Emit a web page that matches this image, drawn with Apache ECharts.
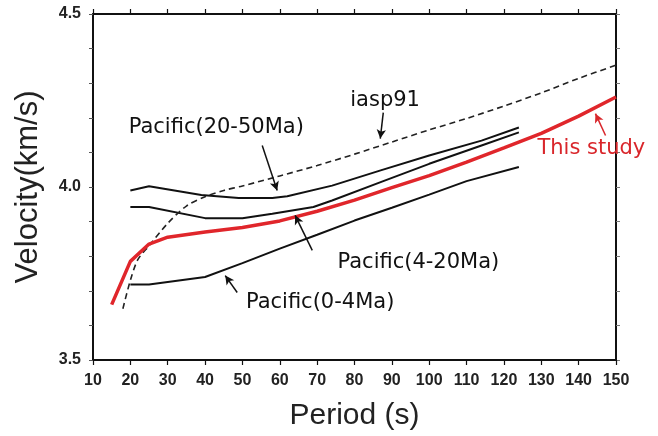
<!DOCTYPE html>
<html><head><meta charset="utf-8">
<script src="https://cdn.jsdelivr.net/npm/echarts@6/dist/echarts.min.js"></script>
<style>html,body{margin:0;padding:0;background:#fff}#c{width:658px;height:436px}</style>
</head><body><div id="c"></div>
<script>
// Data (period in s, velocity in km/s)
const thisStudyP = [15, 20, 25, 30, 40, 50, 60, 70, 80, 90, 100, 110, 120, 130, 140, 150];
const thisStudyV = [3.66, 3.785, 3.835, 3.855, 3.87, 3.883, 3.902, 3.93, 3.962, 3.998, 4.033, 4.072, 4.113, 4.155, 4.205, 4.26];
const iaspP = [18, 20, 22, 25, 30, 35, 40, 45, 50, 60, 70, 80, 90, 100, 110, 120, 130, 140, 150];
const iaspV = [3.648, 3.73, 3.79, 3.83, 3.895, 3.945, 3.972, 3.99, 4.003, 4.032, 4.062, 4.095, 4.13, 4.165, 4.198, 4.234, 4.272, 4.314, 4.352];
const pac0_4P = [20, 25, 40, 50, 60, 70, 80, 90, 100, 110, 124];
const pac0_4V = [3.718, 3.718, 3.74, 3.78, 3.822, 3.862, 3.903, 3.94, 3.978, 4.017, 4.058];
const pac4_20P = [20, 25, 40, 50, 58, 69, 74, 87, 100, 114, 124];
const pac4_20V = [3.942, 3.942, 3.91, 3.91, 3.923, 3.942, 3.961, 4.014, 4.067, 4.12, 4.158];
const pac20_50P = [20, 25, 39, 49, 58, 62, 74, 87, 100, 114, 124];
const pac20_50V = [3.99, 4.002, 3.977, 3.968, 3.968, 3.973, 4.004, 4.048, 4.091, 4.134, 4.172];
const xTicks = [10, 20, 30, 40, 50, 60, 70, 80, 90, 100, 110, 120, 130, 140, 150];
const yTickLabels = [3.5, 4.0, 4.5];
// Annotations: [label, textX, textY, arrowFromX, arrowFromY, arrowToX, arrowToY, colour]
const notes = [
  ['iasp91', 88.2, 4.25, 87.7, 4.215, 86.9, 4.14, '#111'],
  ['Pacific(20-50Ma)', 43, 4.172, 55.3, 4.12, 59.3, 3.99, '#111'],
  ['This study', 143.4, 4.111, 147.2, 4.149, 144.5, 4.212, '#d9262b'],
  ['Pacific(4-20Ma)', 97.1, 3.782, 68.7, 3.817, 64.1, 3.918, '#111'],
  ['Pacific(0-4Ma)', 70.8, 3.666, 48.6, 3.695, 45.4, 3.744, '#111']
];

const zip = (a, b) => a.map((v, i) => [v, b[i]]);
const chart = echarts.init(document.getElementById('c'), null, {renderer: 'canvas'});
const font = 'Liberation Sans, Arial, sans-serif';
const axLine = {show: true, lineStyle: {color: '#111', width: 2}};

const series = [
  {type: 'line', data: zip(pac20_50P, pac20_50V), showSymbol: false, lineStyle: {color: '#111', width: 2}, z: 3},
  {type: 'line', data: zip(pac4_20P, pac4_20V), showSymbol: false, lineStyle: {color: '#111', width: 2}, z: 3},
  {type: 'line', data: zip(pac0_4P, pac0_4V), showSymbol: false, lineStyle: {color: '#111', width: 2}, z: 3},
  {type: 'line', data: zip(iaspP, iaspV), showSymbol: false, smooth: 0.3, lineStyle: {color: '#222', width: 1.6, type: [6, 4]}, z: 3},
  {type: 'line', data: zip(thisStudyP, thisStudyV), showSymbol: false, lineStyle: {color: '#e0262b', width: 3.5}, z: 4},
  {
    type: 'scatter', data: [], silent: true,
    markPoint: {
      symbol: 'circle', symbolSize: 0,
      label: {show: true, position: 'inside', fontFamily: 'DejaVu Sans, sans-serif', fontSize: 21, formatter: p => p.name},
      data: notes.map(n => ({name: n[0], coord: [n[1], n[2]], label: {color: n[7]}}))
    },
    markLine: {
      silent: true, symbol: ['none', 'arrow'], symbolSize: [7, 9],
      label: {show: false},
      data: notes.map(n => [{coord: [n[3], n[4]], lineStyle: {color: n[7], width: 1.5, type: 'solid'}}, {coord: [n[5], n[6]]}])
    }
  }
];

chart.setOption({
  animation: false,
  grid: {left: 93, top: 14, width: 523, height: 346, containLabel: false, outerBoundsMode: 'none'},
  xAxis: [
    {type: 'value', min: 10, max: 150, interval: 10, position: 'bottom',
     axisLine: axLine, axisTick: {show: true, length: 5, lineStyle: {color: '#111', width: 1.2}},
     splitLine: {show: false},
     axisLabel: {color: '#222', fontFamily: font, fontSize: 16, fontWeight: 'bold', margin: 13, formatter: v => xTicks.includes(v) ? String(v) : ''},
     name: 'Period (s)', nameLocation: 'middle', nameGap: 41,
     nameTextStyle: {fontFamily: font, fontSize: 30, color: '#222'}},
    {type: 'value', min: 10, max: 150, interval: 10, position: 'top',
     axisLine: axLine, axisTick: {show: true, length: 5, lineStyle: {color: '#111', width: 1.2}},
     splitLine: {show: false}, axisLabel: {show: false}}
  ],
  yAxis: [
    {type: 'value', min: 3.5, max: 4.5, interval: 0.1, position: 'left',
     axisLine: axLine, axisTick: {show: true, length: 4, lineStyle: {color: '#555', width: 1}},
     splitLine: {show: false},
     axisLabel: {color: '#222', fontFamily: font, fontSize: 16, fontWeight: 'bold', margin: 12,
       formatter: v => { const m = yTickLabels.find(t => Math.abs(t - v) < 1e-6); return m !== undefined ? m.toFixed(1) : ''; }},
     name: 'Velocity(km/s)', nameLocation: 'middle', nameGap: 49, nameRotate: 90,
     nameTextStyle: {fontFamily: font, fontSize: 31, color: '#222'}},
    {type: 'value', min: 3.5, max: 4.5, interval: 0.1, position: 'right',
     axisLine: axLine, axisTick: {show: true, length: 4, lineStyle: {color: '#777', width: 1}},
     splitLine: {show: false}, axisLabel: {show: false}}
  ],
  series: series
});
</script></body></html>
